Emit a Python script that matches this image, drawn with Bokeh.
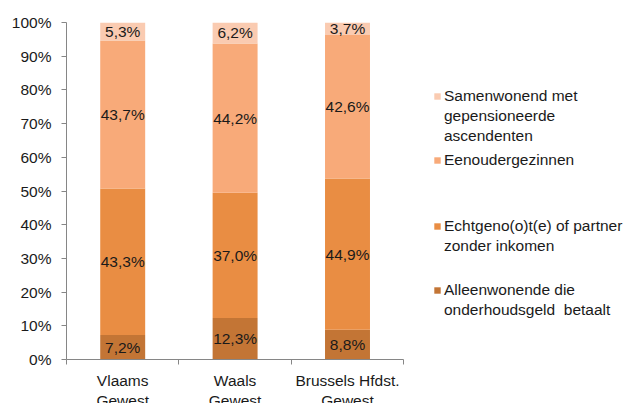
from bokeh.plotting import figure
from bokeh.models import (ColumnDataSource, FixedTicker, Legend, LegendItem,
                          PrintfTickFormatter, Range1d)
from bokeh.embed import file_html
from bokeh.resources import INLINE
from bokeh.core.properties import value

# ---- data ----
regions = ["Vlaams\nGewest", "Waals\nGewest", "Brussels Hfdst.\nGewest"]
alleenwonende = [7.2, 12.3, 8.8]
echtgenoot = [43.3, 37.0, 44.9]
eenouder = [43.7, 44.2, 42.6]
samenwonend = [5.3, 6.2, 3.7]
series_values = [alleenwonende, echtgenoot, eenouder, samenwonend]
series_labels = [["Alleenwonende die", "onderhoudsgeld  betaalt"],
                 ["Echtgeno(o)t(e) of partner", "zonder inkomen"],
                 ["Eenoudergezinnen"],
                 ["Samenwonend met", "gepensioneerde", "ascendenten"]]
colors = ["#C37535", "#E98D43", "#F8AA79", "#FACBB1"]
y_ticks = [0, 10, 20, 30, 40, 50, 60, 70, 80, 90, 100]

# ---- layout constants (pixels) ----
FONT = "Liberation Sans"
FS = "15.5px"
TXT = "#1a1a1a"
AXIS = "#868686"
LINE_H = 19
LINE_GAP = 1
legend_tops = [280, 216, 150, 86]     # y of top of each legend entry
FRAME_TOP, FRAME_BOTTOM, FRAME_LEFT = 22, 359, 66
LEGEND_X = 367

n = len(regions)
xs = [i + 0.5 for i in range(n)]
totals = [sum(s[i] for s in series_values) for i in range(n)]

p = figure(width=628, height=411, output_backend="svg", toolbar_location=None,
           x_range=Range1d(0, 5.0), y_range=Range1d(0, 100),
           min_border_left=FRAME_LEFT, min_border_top=FRAME_TOP,
           min_border_right=0, min_border_bottom=0)
p.outline_line_color = None
p.background_fill_color = "white"
p.border_fill_color = "white"
p.xgrid.visible = False
p.ygrid.visible = False

renderers = []
lab_x, lab_y, lab_t = [], [], []
bottoms = [0.0] * n
for vals, col in zip(series_values, colors):
    norm = [v / t * 100 for v, t in zip(vals, totals)]
    tops = [b + v for b, v in zip(bottoms, norm)]
    src = ColumnDataSource(dict(x=xs, bottom=bottoms, top=tops))
    r = p.vbar(x="x", bottom="bottom", top="top", width=0.4, source=src,
               fill_color=col, line_color=None)
    renderers.append(r)
    for i in range(n):
        lab_x.append(xs[i])
        lab_y.append((bottoms[i] + tops[i]) / 2)
        lab_t.append(f"{vals[i]:.1f}".replace(".", ",") + "%")
    bottoms = tops

lsrc = ColumnDataSource(dict(x=lab_x, y=lab_y, t=lab_t))
p.text(x="x", y="y", text="t", source=lsrc, text_align="center",
       text_baseline="middle", text_font=value(FONT), text_font_size=FS,
       text_color=TXT)

# invisible renderer used for continuation lines of legend labels
dummy = p.vbar(x=[], top=[], width=0.4, fill_alpha=0, line_alpha=0)

# axes
p.xaxis.ticker = FixedTicker(ticks=xs, minor_ticks=list(range(n + 1)))
p.xaxis.bounds = (0, n)
p.xaxis.major_label_overrides = {x: r for x, r in zip(xs, regions)}
p.xaxis.major_tick_out = 0
p.xaxis.major_tick_in = 0
p.xaxis.minor_tick_out = 5
p.xaxis.minor_tick_in = 0
p.xaxis.minor_tick_line_color = AXIS
p.xaxis.axis_line_color = AXIS
p.xaxis.major_label_standoff = 7
p.xaxis.major_label_text_font = FONT
p.xaxis.major_label_text_font_size = FS
p.xaxis.major_label_text_color = TXT
p.xaxis.major_label_text_line_height = 1.18
p.xaxis.axis_label_standoff = 0

p.yaxis.ticker = FixedTicker(ticks=y_ticks)
p.yaxis.formatter = PrintfTickFormatter(format="%d%%")
p.yaxis.major_tick_out = 5
p.yaxis.major_tick_in = 0
p.yaxis.minor_tick_out = 0
p.yaxis.minor_tick_in = 0
p.yaxis.major_tick_line_color = AXIS
p.yaxis.axis_line_color = AXIS
p.yaxis.major_label_standoff = 10
p.yaxis.major_label_text_font = FONT
p.yaxis.major_label_text_font_size = FS
p.yaxis.major_label_text_color = TXT

for lines, r, top in zip(series_labels, renderers, legend_tops):
    items = [LegendItem(label=lines[0], renderers=[r])]
    items += [LegendItem(label=ln, renderers=[dummy]) for ln in lines[1:]]
    h = LINE_H * len(lines) + LINE_GAP * (len(lines) - 1)
    leg = Legend(items=items, location=(LEGEND_X, FRAME_BOTTOM - top - h),
                 margin=0, padding=0, spacing=LINE_GAP, glyph_width=8,
                 glyph_height=8, label_standoff=3, label_height=LINE_H,
                 label_width=10, label_text_font=FONT,
                 label_text_font_size=FS, label_text_color=TXT,
                 border_line_color=None, background_fill_alpha=0)
    p.add_layout(leg, "center")

open("out.html", "w").write(file_html(p, INLINE))
